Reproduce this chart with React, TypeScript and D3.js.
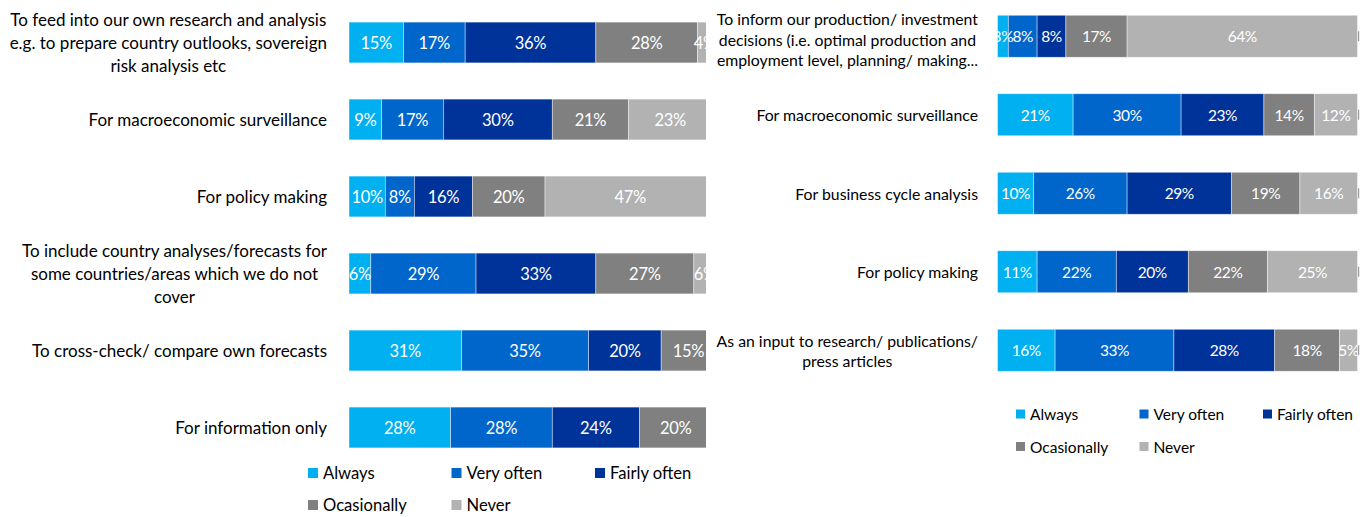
import { useEffect, useRef } from "react";
import * as d3 from "d3";

// series (legend order)
const seriesNames = ["Always", "Very often", "Fairly often", "Ocasionally", "Never"];
const seriesColors = ["#00B0F0", "#0066CC", "#003399", "#808080", "#B2B2B2"];

// left panel
const leftCategories = [
  ["To feed into our own research and analysis", "e.g. to prepare country outlooks, sovereign", "risk analysis etc"],
  ["For macroeconomic surveillance"],
  ["For policy making"],
  ["To include country analyses/forecasts for", "some countries/areas which we do not", "cover"],
  ["To cross-check/ compare own forecasts"],
  ["For information only"],
];
const leftAlways = [15, 9, 10, 6, 31, 28];
const leftVeryOften = [17, 17, 8, 29, 35, 28];
const leftFairlyOften = [36, 30, 16, 33, 20, 24];
const leftOcasionally = [28, 21, 20, 27, 15, 20];
const leftNever = [4, 23, 47, 6, 0, 0];

// right panel
const rightCategories = [
  ["To inform our production/ investment", "decisions (i.e. optimal production and", "employment level, planning/ making..."],
  ["For macroeconomic surveillance"],
  ["For business cycle analysis"],
  ["For policy making"],
  ["As an input to research/ publications/", "press articles"],
];
const rightAlways = [3, 21, 10, 11, 16];
const rightVeryOften = [8, 30, 26, 22, 33];
const rightFairlyOften = [8, 23, 29, 20, 28];
const rightOcasionally = [17, 14, 19, 22, 18];
const rightNever = [64, 12, 16, 25, 5];

const FONT = "Lato, 'Open Sans', sans-serif";

const App = () => {
  const svgRef = useRef(null);

  useEffect(() => {
    const svg = d3.select(svgRef.current);
    svg.selectAll("*").remove();

    // 패널 그리기
    const drawPanel = (cfg) => {
      const g = svg.append("g");
      const n = cfg.categories.length;
      const idx = d3.range(n);

      const x = d3.scaleLinear().domain([0, 100]).range(cfg.xRange);
      const y = d3.scaleBand()
        .domain(idx)
        .range(cfg.yRange)
        .paddingInner(cfg.padding)
        .paddingOuter(cfg.padding / 2);

      const rows = idx.map((i) => {
        const obj = { i };
        cfg.series.forEach((s, k) => (obj[k] = s[i]));
        return obj;
      });
      const stacked = d3.stack().keys(d3.range(cfg.series.length))(rows);

      const clipId = `clip-${cfg.id}`;
      svg.append("defs").append("clipPath").attr("id", clipId)
        .append("rect")
        .attr("x", cfg.xRange[0] - 1)
        .attr("y", 0)
        .attr("width", cfg.clipRight - cfg.xRange[0] + 1)
        .attr("height", 517);

      const plot = g.append("g").attr("clip-path", `url(#${clipId})`);

      stacked.forEach((layer, k) => {
        plot.append("g")
          .selectAll("rect")
          .data(layer.filter((d) => d[1] > d[0]))
          .enter()
          .append("rect")
          .attr("x", (d) => x(d[0]))
          .attr("y", (d) => y(d.data.i))
          .attr("width", (d) => x(d[1]) - x(d[0]))
          .attr("height", y.bandwidth())
          .attr("fill", seriesColors[k])
          .attr("stroke", "#ffffff")
          .attr("stroke-opacity", 0.6)
          .attr("stroke-width", 0.7);
      });

      // 데이터 레이블
      stacked.forEach((layer) => {
        plot.append("g")
          .selectAll("text")
          .data(layer.filter((d) => d[1] > d[0]))
          .enter()
          .append("text")
          .attr("x", (d) => (x(d[0]) + x(d[1])) / 2)
          .attr("y", (d) => y(d.data.i) + y.bandwidth() / 2)
          .attr("text-anchor", "middle")
          .attr("dominant-baseline", "central")
          .style("font-family", FONT)
          .style("font-size", `${cfg.valueFont}px`)
          .style("letter-spacing", `${cfg.valueSpacing}px`)
          .style("fill", "#ffffff")
          .text((d) => `${d[1] - d[0]}%`);
      });

      if (cfg.endTick) {
        g.append("g")
          .selectAll("rect")
          .data(idx)
          .enter()
          .append("rect")
          .attr("x", x(100) + 0.5)
          .attr("y", (i) => y(i) + y.bandwidth() / 2 - 5)
          .attr("width", 1.2)
          .attr("height", 10)
          .attr("fill", "#9a9a9a");
      }

      // 카테고리 레이블 (여러 줄은 가운데 정렬)
      cfg.categories.forEach((lines, i) => {
        const cy = y(i) + y.bandwidth() / 2 + (cfg.labelShift ? cfg.labelShift[i] : 0);
        const tg = g.append("g");
        const texts = lines.map((line, j) =>
          tg.append("text")
            .attr("y", cy + (j - (lines.length - 1) / 2) * cfg.lineHeight)
            .attr("dominant-baseline", "central")
            .attr("text-anchor", "middle")
            .style("font-family", FONT)
            .style("font-size", `${cfg.labelFont}px`)
            .style("fill", "#000000")
            .text(line)
        );
        const w = d3.max(texts, (t) => t.node().getComputedTextLength());
        texts.forEach((t) => t.attr("x", cfg.labelRight - w / 2));
      });

      // 범례
      const lg = g.append("g");
      seriesNames.forEach((name, k) => {
        const col = k % 3;
        const row = Math.floor(k / 3);
        const lx = cfg.legendX + col * cfg.legendColStep;
        const ly = cfg.legendY + row * cfg.legendRowStep;
        lg.append("rect")
          .attr("x", lx)
          .attr("y", ly - cfg.legendBox / 2)
          .attr("width", cfg.legendBox)
          .attr("height", cfg.legendBox)
          .attr("fill", seriesColors[k]);
        lg.append("text")
          .attr("x", lx + cfg.legendBox + 5)
          .attr("y", ly)
          .attr("dominant-baseline", "central")
          .style("font-family", FONT)
          .style("font-size", `${cfg.legendFont}px`)
          .style("fill", "#000000")
          .text(name);
      });
    };

    drawPanel({
      id: "left",
      categories: leftCategories,
      series: [leftAlways, leftVeryOften, leftFairlyOften, leftOcasionally, leftNever],
      xRange: [349, 712],
      clipRight: 706,
      yRange: [4, 466],
      padding: 0.47,
      labelRight: 327,
      labelFont: 17,
      lineHeight: 23,
      valueFont: 16.5,
      valueSpacing: -0.3,
      legendX: 308,
      legendY: 473,
      legendColStep: 143.5,
      legendRowStep: 32,
      legendBox: 10,
      legendFont: 16.6,
      endTick: false,
    });

    drawPanel({
      id: "right",
      categories: rightCategories,
      series: [rightAlways, rightVeryOften, rightFairlyOften, rightOcasionally, rightNever],
      xRange: [997.5, 1357.5],
      clipRight: 1366,
      yRange: [-3, 389.5],
      padding: 0.465,
      labelRight: 978,
      labelFont: 15.8,
      lineHeight: 20.5,
      valueFont: 15.5,
      valueSpacing: -0.4,
      labelShift: [3, 0, 0, 0, 0],
      legendX: 1016,
      legendY: 414,
      legendColStep: 123.5,
      legendRowStep: 32.5,
      legendBox: 9,
      legendFont: 15.5,
      endTick: true,
    });
  }, []);

  return (
    <div style={{ position: "absolute", left: 0, top: 0, background: "#ffffff" }}>
      <svg ref={svgRef} width={1366} height={517} style={{ display: "block" }}></svg>
    </div>
  );
};

export default App;
